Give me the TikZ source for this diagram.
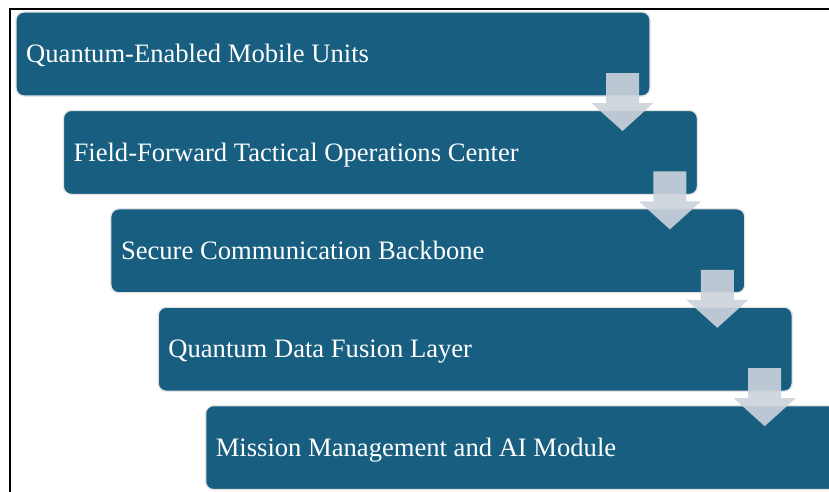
\documentclass[tikz,border=0pt]{standalone}
\usepackage{fontspec}
\setmainfont{Liberation Serif}
\usetikzlibrary{calc}
\definecolor{boxblue}{RGB}{23,94,128}
\definecolor{arrowgray}{RGB}{205,211,219}
\definecolor{edgegray}{RGB}{228,228,228}
\tikzset{
  stagebox/.style={draw=edgegray, line width=1.3pt, fill=boxblue, rounded corners=8pt,
    minimum width=634pt, minimum height=84pt, inner sep=0pt, outer sep=0pt, anchor=north west},
  stagetext/.style={text=white, font=\fontsize{26.6}{32}\selectfont, anchor=base west, inner sep=0pt},
  downarrow/.style={fill=arrowgray, fill opacity=0.9, draw=none},
  frameline/.style={draw=black, line width=2.2pt},
}
\begin{document}
\begin{tikzpicture}[x=1pt,y=-1pt]
  \useasboundingbox (0,0) rectangle (829,491);
  \clip (0,0) rectangle (829,491);
  \fill[white] (0,0) rectangle (829,491);
  % frame
  \coordinate (fbl) at (9.7,492);
  \coordinate (ftl) at (9.7,9);
  \coordinate (ftr) at (830,9);
  \draw[frameline] (fbl) -- (ftl) -- (ftr);
  % boxes
  \node[stagebox] (b1) at (16,12) {};
  \node[stagebox] (b2) at (63.4,110.4) {};
  \node[stagebox] (b3) at (110.8,208.8) {};
  \node[stagebox] (b4) at (158.2,307.2) {};
  \node[stagebox] (b5) at (205.6,405.6) {};
  % texts
  \node[stagetext] (t1) at ($(b1.north west)+(10,50.7)$) {Quantum-Enabled Mobile Units};
  \node[stagetext] (t2) at ($(b2.north west)+(10,50.7)$) {Field-Forward Tactical Operations Center};
  \node[stagetext] (t3) at ($(b3.north west)+(10,50.7)$) {Secure Communication Backbone};
  \node[stagetext] (t4) at ($(b4.north west)+(10,50.7)$) {Quantum Data Fusion Layer};
  \node[stagetext] (t5) at ($(b5.north west)+(10,50.7)$) {Mission Management and AI Module};
  % arrows
  \foreach \i in {1,2,3,4}{
    \coordinate (a\i) at ($(b\i.north east)+(-27.5,61)$);
    \fill[downarrow, shift={(a\i)}] (-16.5,0) -- (16.5,0) -- (16.5,30) -- (31,30)
      -- (0,58) -- (-31,30) -- (-16.5,30) -- cycle;
  }
\end{tikzpicture}
\end{document}
